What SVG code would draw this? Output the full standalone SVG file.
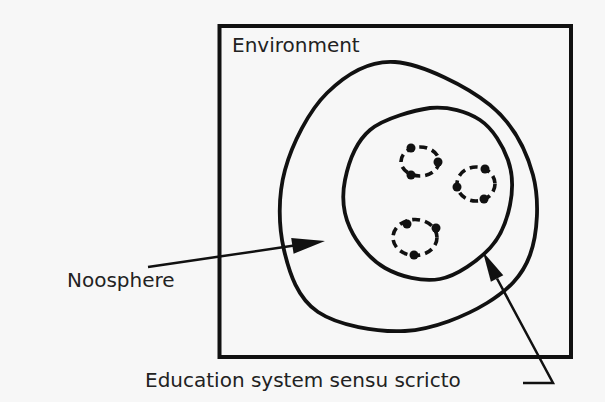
<svg xmlns="http://www.w3.org/2000/svg" width="605" height="402" viewBox="0 0 605 402">
  <style>
    .frame { fill: none; stroke: #111; stroke-width: 4; }
    .blob { fill: none; stroke: #111; stroke-width: 3.8; stroke-linejoin: round; }
    .ring { fill: none; stroke: #111; stroke-width: 3.6; stroke-dasharray: 8 5; }
    .dot { fill: #111; }
    .conn { fill: none; stroke: #111; stroke-width: 2.5; }
    .head { fill: #111; }
    .lbl { font-family: "DejaVu Sans", Verdana, sans-serif; font-size: 20px; fill: #222; }
  </style>
  <rect x="0" y="0" width="605" height="402" fill="#f7f7f7"/>
  <g id="environment">
    <rect class="frame" x="219.5" y="26" width="351.5" height="331"/>
    <text class="lbl" x="232" y="52">Environment</text>
  </g>
  <g id="noosphere">
    <path class="blob" d="M395,62 C422.2,64 467,86.2 490,105 C513,123.8 526.3,150 533,175 C539.7,200 537.7,233.7 530,255 C522.3,276.3 507.8,290.3 487,303 C466.2,315.7 433.2,329.5 405,331 C376.8,332.5 338.2,325.5 318,312 C297.8,298.5 289.5,273.7 284,250 C278.5,226.3 277.8,196.2 285,170 C292.2,143.8 308.7,111 327,93 C345.3,75 367.8,60 395,62 Z"/>
    <text class="lbl" x="67" y="287">Noosphere</text>
  </g>
  <g id="education-system">
    <path class="blob" d="M430,108 C448.3,106.3 467,111.3 480,120 C493,128.7 503,145.8 508,160 C513,174.2 513,190.3 510,205 C507,219.7 501.7,235.7 490,248 C478.3,260.3 457.5,275.7 440,279 C422.5,282.3 400,276.5 385,268 C370,259.5 356.7,242.7 350,228 C343.3,213.3 341.7,196.3 345,180 C348.3,163.7 355.8,142 370,130 C384.2,118 415.8,110 430,108 Z"/>
    <text class="lbl" x="145" y="387">Education system sensu scricto</text>
  </g>
  <g id="cell-1">
    <ellipse class="ring" cx="420" cy="161.5" rx="19" ry="14.5"/>
    <circle class="dot" cx="411" cy="148" r="4.5"/>
    <circle class="dot" cx="438" cy="162" r="4.5"/>
    <circle class="dot" cx="411" cy="175" r="4.5"/>
  </g>
  <g id="cell-2">
    <ellipse class="ring" cx="476" cy="184" rx="19" ry="17"/>
    <circle class="dot" cx="485" cy="169" r="4.5"/>
    <circle class="dot" cx="457" cy="187" r="4.5"/>
    <circle class="dot" cx="484" cy="199" r="4.5"/>
  </g>
  <g id="cell-3">
    <ellipse class="ring" cx="415" cy="237.5" rx="22" ry="18"/>
    <circle class="dot" cx="407" cy="224" r="4.5"/>
    <circle class="dot" cx="436" cy="228" r="4.5"/>
    <circle class="dot" cx="414" cy="255" r="4.5"/>
  </g>
  <g id="connectors">
    <line class="conn" x1="148" y1="267" x2="296" y2="245.3"/>
    <polygon class="head" points="325,241 291.2,237.9 293.6,253.7"/>
    <polyline class="conn" points="523,383 553,383 497,278.5"/>
    <polygon class="head" points="483,252 503.3,275.2 490.9,281.8"/>
  </g>
</svg>
